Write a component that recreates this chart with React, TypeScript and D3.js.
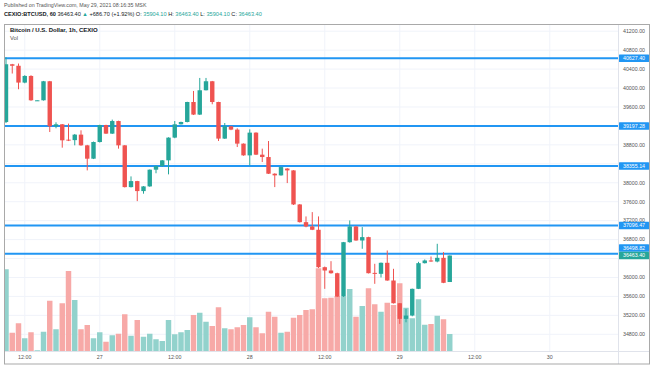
import React from "react";
import * as d3 from "d3";

// ---------- DATA ----------
const startTime = "2021-05-26T09:00";
const opens = [39282,40502,40470,40115,40255,39741,39741,40143,39192,39234,38910,38900,39016,38790,38508,38860,39219,39037,39303,38790,37908,38035,37824,37923,38276,38352,38473,38953,39234,39283,39705,39439,39953,40143,39705,38932,39192,39122,38826,38578,39058,38593,38543,38191,38156,38300,38261,37542,37168,37077,37007,36217,36147,36090,35597,36745,37077,36781,36852,36097,36077,36310,35936,35456,35126,35196,35760,36302,36359,36337,36415,35904.1];
const highs = [40650,40510,40517,40270,40270,39745,40150,40150,39276,39240,39249,39030,39107,38800,38870,39225,39225,39333,39310,38795,38134,38040,37930,38280,38360,38480,38960,39304,39290,39710,39938,40213,40213,40150,39710,39261,39200,39150,38830,39128,39065,38720,38881,38200,38335,38310,38265,37550,37289,37380,37289,36230,36344,36100,36750,37204,37085,37064,36860,36289,36315,36570,36183,35460,35337,35765,36330,36380,36443,36711,36535,36463.4];
const lows = [39260,40306,39974,40100,39730,39735,39735,39071,39150,38741,38880,38790,38780,38261,38500,38850,39030,39030,38720,37900,37900,37612,37769,37915,38200,38340,38177,38940,39230,39275,39430,39430,39950,39657,38881,38925,39110,38754,38570,38367,38585,38437,38185,37908,38150,37993,37530,37160,37060,37000,36200,35760,36080,35590,35590,36735,36775,36606,36085,35866,36000,35930,35450,35020,35054,35180,35755,36295,36330,36320,35880,35904.1];
const closes = [40502,40470,40115,40255,39741,39741,40143,39192,39234,38896,38900,39016,38790,38508,38860,39219,39037,39303,38790,37908,38035,37824,37923,38276,38352,38473,38953,39234,39283,39705,39439,39953,40143,39705,38932,39192,39122,38826,38578,39058,38593,38543,38191,38156,38331,38261,37542,37168,37077,37007,36217,36147,36090,35597,36745,37077,36781,36852,36090,36077,36310,35936,35456,35126,35196,35760,36302,36359,36337,36415,35887,36463.4];
const volumes = [327,73,111,51,75,3,77,201,87,191,320,204,87,104,51,75,37,63,69,147,61,124,57,69,47,40,124,67,75,84,144,153,117,100,175,91,87,95,104,135,95,71,157,137,73,77,133,144,164,167,331,211,213,220,217,248,137,180,251,187,157,193,184,271,173,131,207,105,108,141,127,68];

const priceTicks = [34800,35200,35600,36000,36400,36800,37200,37600,38000,38400,38800,39200,39600,40000,40400,40800,41200];
const levelLines = [40627.40, 39197.28, 38355.14, 37096.47, 36498.82];
const lastPrice = 36463.40;

const timeTickTimes = ["2021-05-26T12:00","2021-05-27T00:00","2021-05-27T12:00","2021-05-28T00:00","2021-05-28T12:00","2021-05-29T00:00","2021-05-29T12:00","2021-05-30T00:00"];
const timeTickLabels = ["12:00","27","12:00","28","12:00","29","12:00","30"];

const headerLine1 = "Published on TradingView.com, May 29, 2021 08:16:35 MSK";
const titleText = "Bitcoin / U.S. Dollar, 1h, CEXIO";

// ---------- STYLE ----------
const UP = "#26a69a";
const DOWN = "#ef5350";
const UP_VOL = "#92d2cc";
const DOWN_VOL = "#f7a9a7";
const LINE = "#2196f3";
const FONT = "'Liberation Sans', Arial, sans-serif";

const W = 654, H = 366;
const plot = { left: 4, top: 25, right: 618, bottom: 351 };

export default function App() {
  const t0 = new Date(startTime);
  const hour = 3600 * 1000;
  const times = opens.map((_, i) => new Date(t0.getTime() + i * hour));

  const x = d3.scaleTime()
    .domain([t0, new Date(t0.getTime() + hour)])
    .range([6, 12.25]);
  const step = 6.25;
  const bodyW = 4.4;

  const y = d3.scaleLinear().domain([34800, 41200]).range([334.3, 31.2]);
  const yVol = d3.scaleLinear().domain([0, 400]).range([plot.bottom, plot.bottom - 100]);

  const tickDates = timeTickTimes.map((s) => new Date(s));

  const boxH = 7.5;
  const boxes = levelLines.map((p) => ({ p, color: LINE, cy: y(p) }));
  const lastY = y(lastPrice);
  boxes.forEach((b) => {
    if (Math.abs(b.cy - lastY) < boxH) b.cy = lastY - boxH;
  });

  const hiddenTick = (p: number) =>
    [...levelLines, lastPrice].some((l) => Math.abs(y(l) - y(p)) < 4);

  return (
    <svg width={W} height={H} style={{ position: "absolute", left: 0, top: 0, background: "#fff" }} fontFamily={FONT}>
      <defs>
        <clipPath id="plotClip">
          <rect x={plot.left + 0.5} y={plot.top} width={plot.right - plot.left - 0.5} height={plot.bottom - plot.top} />
        </clipPath>
      </defs>
      {/* header */}
      <text x={4} y={7} fontSize={5.3} fill="#555">{headerLine1}</text>
      <text x={4} y={16} fontSize={5.6} fill="#131722">
        <tspan fontWeight="bold">CEXIO:BTCUSD, 60</tspan>
        <tspan>{"  36463.40 "}</tspan>
        <tspan fill={UP}>▲</tspan>
        <tspan>{" +686.70 (+1.92%)  O: "}</tspan>
        <tspan fill={UP}>35904.10</tspan>
        <tspan>{"  H: "}</tspan>
        <tspan fill={UP}>36463.40</tspan>
        <tspan>{"  L: "}</tspan>
        <tspan fill={UP}>35904.10</tspan>
        <tspan>{"  C: "}</tspan>
        <tspan fill={UP}>36463.40</tspan>
      </text>

      {/* grid */}
      {priceTicks.map((p) => (
        <line key={"hg" + p} x1={plot.left} x2={plot.right} y1={y(p)} y2={y(p)} stroke="#f0f3fa" strokeWidth={1} />
      ))}
      {tickDates.map((d, i) => (
        <line key={"vg" + i} x1={x(d)} x2={x(d)} y1={plot.top} y2={plot.bottom} stroke="#f0f3fa" strokeWidth={1} />
      ))}

      <g clipPath="url(#plotClip)">
        {volumes.map((v, i) => (
          <rect key={"v" + i} x={x(times[i]) - step / 2 + 0.4} width={step - 0.8} y={yVol(v)} height={plot.bottom - yVol(v)}
            fill={closes[i] >= opens[i] ? UP_VOL : DOWN_VOL} />
        ))}
        {levelLines.map((p) => (
          <line key={"l" + p} x1={plot.left} x2={plot.right} y1={y(p)} y2={y(p)} stroke={LINE} strokeWidth={2} />
        ))}
        {opens.map((o, i) => {
          const c = closes[i];
          const up = c >= o;
          const col = up ? UP : DOWN;
          const cx = x(times[i]);
          const top = y(Math.max(o, c));
          const bot = y(Math.min(o, c));
          return (
            <g key={"c" + i}>
              <line x1={cx} x2={cx} y1={y(highs[i])} y2={y(lows[i])} stroke={col} strokeWidth={1} />
              <rect x={cx - bodyW / 2} width={bodyW} y={top} height={Math.max(1, bot - top)} fill={col} />
            </g>
          );
        })}
      </g>

      {/* title */}
      <text x={10} y={31.5} fontSize={6} fontWeight="bold" fill="#131722">{titleText}</text>
      <text x={10} y={39.5} fontSize={5.8} fill="#555">Vol</text>

      {/* price axis labels */}
      {priceTicks.filter((p) => !hiddenTick(p)).map((p) => (
        <text key={"pt" + p} x={634} y={y(p)} dy="0.35em" textAnchor="middle" fontSize={5.3} fill="#555">
          {d3.format(".2f")(p)}
        </text>
      ))}
      {boxes.map((b) => (
        <g key={"b" + b.p}>
          <rect x={619} y={b.cy - boxH / 2} width={30} height={boxH} fill={b.color} rx={0.5} />
          <text x={634} y={b.cy} dy="0.35em" textAnchor="middle" fontSize={5.3} fill="#fff">{d3.format(".2f")(b.p)}</text>
        </g>
      ))}
      <g>
        <rect x={619} y={lastY - boxH / 2} width={30} height={boxH} fill={UP} rx={0.5} />
        <text x={634} y={lastY} dy="0.35em" textAnchor="middle" fontSize={5.3} fill="#fff">{d3.format(".2f")(lastPrice)}</text>
      </g>

      {/* time axis labels */}
      {tickDates.map((d, i) => (
        <text key={"tt" + i} x={x(d)} y={359} textAnchor="middle" fontSize={5.3} fill="#555">{timeTickLabels[i]}</text>
      ))}

      {/* separators and frame */}
      <line x1={plot.left} x2={650} y1={plot.bottom + 0.5} y2={plot.bottom + 0.5} stroke="#e0e3eb" />
      <line x1={plot.right + 0.5} x2={plot.right + 0.5} y1={plot.top} y2={364} stroke="#e0e3eb" />
      <rect x={4.5} y={24.5} width={645} height={339.5} fill="none" stroke="#a9a9a9" strokeWidth={1} />
    </svg>
  );
}
